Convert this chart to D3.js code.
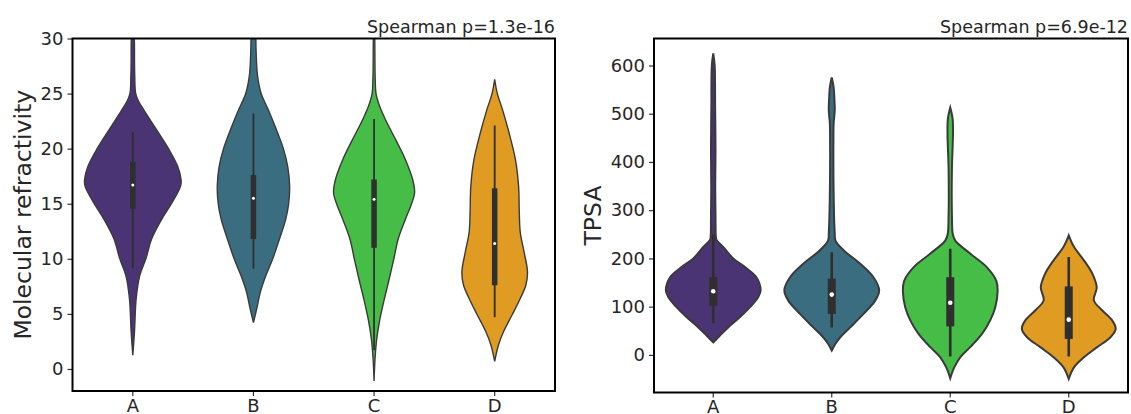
<!DOCTYPE html>
<html>
<head>
<meta charset="utf-8">
<script src="https://cdn.jsdelivr.net/npm/d3@7"></script>
<style>
  body { margin: 0; background: #fff; }
  svg { display: block; font-family: "DejaVu Sans", sans-serif; }
</style>
</head>
<body>
<svg id="chart" width="1131" height="414"></svg>
<script>
const categories = ["A", "B", "C", "D"];
const violinColors = ["#4a3474", "#3a6d80", "#46bd46", "#e09b22"];

// density outlines: [value, relative half-width]
const mrDensityA = [[31, 0], [30, 0.03], [28, 0.035], [26.6, 0.04], [25, 0.06], [24.3, 0.12], [23.5, 0.23], [22, 0.45], [20, 0.74],
  [18.4, 0.93], [17.2, 1.0], [16.6, 0.99], [15, 0.8], [13.6, 0.6], [11.8, 0.39], [10, 0.27], [8.5, 0.145], [6.4, 0.07], [3.4, 0.035], [1.25, 0]];
const mrDensityB = [[31, 0.04], [30, 0.05], [28.9, 0.055], [26.6, 0.085], [25, 0.16], [23.5, 0.31], [22, 0.45], [20, 0.62], [18.4, 0.71],
  [16.6, 0.75], [15, 0.73], [13.6, 0.67], [11.8, 0.54], [10, 0.4], [8.5, 0.26], [7, 0.145], [5.5, 0.07], [4.2, 0]];
const mrDensityC = [[31, 0.01], [30, 0.015], [27, 0.02], [26.2, 0.025], [25, 0.04], [23.8, 0.12], [22.6, 0.24], [20.8, 0.45], [19, 0.65],
  [17.2, 0.8], [16, 0.84], [14.8, 0.76], [13.6, 0.65], [11.8, 0.5], [10, 0.41], [8.1, 0.31], [6.3, 0.21], [4.5, 0.12], [2.7, 0.055], [0.9, 0.02], [-1.1, 0]];
const mrDensityD = [[26.3, 0], [25, 0.055], [23.5, 0.165], [21.4, 0.3], [19, 0.43], [16.6, 0.495], [14.2, 0.51], [12.4, 0.53], [10.6, 0.61],
  [8.8, 0.68], [7.6, 0.645], [6.4, 0.53], [4.9, 0.36], [3.4, 0.185], [2.2, 0.08], [0.7, 0]];

const tpsaDensityA = [[625, 0], [600, 0.03], [512, 0.04], [424, 0.048], [350, 0.042], [286, 0.048], [245, 0.055], [238, 0.07], [224, 0.21],
  [200, 0.42], [182, 0.67], [161, 0.91], [134, 1.0], [120, 0.95], [100, 0.785], [78, 0.56], [57, 0.315], [43.6, 0.175], [33, 0.07], [26, 0]];
const tpsaDensityB = [[575, 0], [555, 0.04], [528, 0.057], [507, 0.063], [480, 0.04], [459, 0.036], [321, 0.042], [252, 0.063], [237, 0.078],
  [217, 0.25], [189, 0.6], [161, 0.88], [134, 1.0], [113, 0.92], [85, 0.67], [57, 0.39], [36.6, 0.18], [23, 0.078], [9, 0]];
const tpsaDensityC = [[513, 0], [490, 0.05], [460, 0.058], [430, 0.05], [390, 0.036], [286, 0.036], [251, 0.053], [237, 0.105], [210, 0.42],
  [182, 0.77], [154, 0.97], [134, 1.0], [99, 0.95], [71, 0.84], [43.6, 0.67], [16, 0.42], [-5, 0.21], [-26, 0.084], [-48.6, 0]];
const tpsaDensityD = [[248, 0], [224, 0.11], [196, 0.32], [168, 0.5], [140, 0.59], [113, 0.53], [92, 0.71], [71, 0.92], [54, 0.99],
  [36.6, 0.88], [16, 0.6], [-5, 0.32], [-26, 0.11], [-50, 0]];

// inner box: [whisker low, q1, median, q3, whisker high]
const mrBoxes = [[9.15, 14.55, 16.7, 18.8, 21.5], [9.1, 11.8, 15.5, 17.6, 23.2], [1.7, 11.0, 15.4, 17.2, 22.7], [4.7, 7.6, 11.4, 16.4, 22.1]];
const tpsaBoxes = [[66, 102, 132, 161, 250], [57, 85, 125, 158, 213], [-3.5, 59, 108, 161, 220], [-3.5, 33, 73, 142, 203]];

const mrTicks = [0, 5, 10, 15, 20, 25, 30];
const tpsaTicks = [0, 100, 200, 300, 400, 500, 600];

const svg = d3.select("#chart");

function drawPanel(p) {
  let g = svg.append("g");
  let x = d3.scaleBand().domain(categories).range([p.left, p.right]).padding(0);
  let y = d3.scaleLinear().domain(p.yDomain).range([p.bottom, p.top]);
  let w = d3.scaleLinear().domain([0, 1]).range([0, x.bandwidth() * 0.4]);

  let clipId = "clip-" + p.id;
  g.append("clipPath").attr("id", clipId)
    .append("rect")
    .attr("x", p.left).attr("y", p.top)
    .attr("width", p.right - p.left).attr("height", p.bottom - p.top);

  let plot = g.append("g").attr("clip-path", "url(#" + clipId + ")");

  p.densities.forEach((dens, i) => {
    let cx = x(categories[i]) + x.bandwidth() / 2;
    let area = d3.area()
      .y(d => y(d[0]))
      .x0(d => cx - w(d[1]))
      .x1(d => cx + w(d[1]))
      .curve(d3.curveCatmullRom.alpha(0.5));
    plot.append("path")
      .attr("d", area(dens))
      .attr("fill", violinColors[i])
      .attr("stroke", "#3a3a3a")
      .attr("stroke-width", p.outline);

    let b = p.boxes[i];
    plot.append("line")
      .attr("x1", cx).attr("x2", cx)
      .attr("y1", y(b[0])).attr("y2", y(b[4]))
      .attr("stroke", "#2f2f2f")
      .attr("stroke-width", p.whisker);
    plot.append("rect")
      .attr("x", cx - p.boxW / 2).attr("width", p.boxW)
      .attr("y", y(b[3])).attr("height", y(b[1]) - y(b[3]))
      .attr("fill", "#2f2f2f");
    plot.append("circle")
      .attr("cx", cx).attr("cy", y(b[2]))
      .attr("r", p.dot)
      .attr("fill", "#fff");
  });

  let yAxis = g.append("g")
    .attr("transform", "translate(" + p.left + ",0)")
    .call(d3.axisLeft(y).tickValues(p.ticks).tickSize(5).tickPadding(4));
  let xAxis = g.append("g")
    .attr("transform", "translate(0," + p.bottom + ")")
    .call(d3.axisBottom(x).tickSize(5).tickPadding(3));
  [yAxis, xAxis].forEach(a => {
    a.select(".domain").remove();
    a.selectAll(".tick line").attr("stroke", "#333").attr("stroke-width", 1.2);
    a.selectAll(".tick text")
      .attr("fill", "#262626")
      .style("font-size", "18px")
      .style("font-family", "DejaVu Sans, sans-serif");
  });

  g.append("rect")
    .attr("x", p.left).attr("y", p.top)
    .attr("width", p.right - p.left).attr("height", p.bottom - p.top)
    .attr("fill", "none")
    .attr("stroke", "#000")
    .attr("stroke-width", 2);

  g.append("text")
    .attr("x", p.right).attr("y", p.top - 6)
    .attr("text-anchor", "end")
    .attr("fill", "#262626")
    .style("font-size", "17.5px")
    .text(p.title);

  g.append("text")
    .attr("transform", "translate(" + p.labelX + "," + ((p.top + p.bottom) / 2) + ") rotate(-90)")
    .attr("text-anchor", "middle")
    .attr("fill", "#262626")
    .style("font-size", "23.5px")
    .text(p.label);
}

drawPanel({
  id: "mr", left: 72.5, right: 555, top: 38.5, bottom: 391,
  yDomain: [-2, 30], ticks: mrTicks,
  densities: [mrDensityA, mrDensityB, mrDensityC, mrDensityD], boxes: mrBoxes,
  outline: 1.4, whisker: 1.8, boxW: 5.5, dot: 1.5,
  title: "Spearman p=1.3e-16", label: "Molecular refractivity", labelX: 31
});

drawPanel({
  id: "tpsa", left: 654, right: 1128, top: 38.5, bottom: 392.5,
  yDomain: [-78, 656], ticks: tpsaTicks,
  densities: [tpsaDensityA, tpsaDensityB, tpsaDensityC, tpsaDensityD], boxes: tpsaBoxes,
  outline: 2, whisker: 2.6, boxW: 8, dot: 2.3,
  title: "Spearman p=6.9e-12", label: "TPSA", labelX: 601
});
</script>
</body>
</html>
